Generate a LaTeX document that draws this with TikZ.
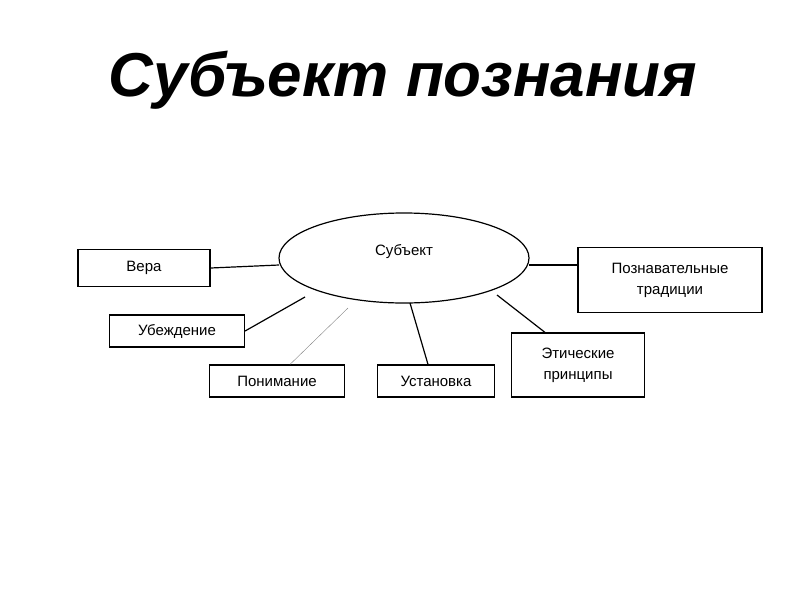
\documentclass[tikz,border=0pt]{standalone}
\usepackage{fontspec}
\setmainfont{Liberation Sans}
\usetikzlibrary{shapes.geometric}
\begin{document}
\begin{tikzpicture}[x=1pt,y=-1pt,
 bx/.style={draw,line width=1.2pt,inner sep=0pt,font=\fontsize{15}{18}\selectfont,align=center},
 ln/.style={line width=1.2pt}]
\useasboundingbox (0,0) rectangle (800,600);
\node (t) at (403,80) {\fontsize{62}{70}\selectfont\bfseries\itshape Субъект познания};
\node[draw,line width=1.2pt,ellipse,minimum width=250pt,minimum height=90pt,font=\fontsize{15}{18}\selectfont,text depth=16pt] (s) at (404,258) {Субъект};
\node[bx,minimum width=132pt,minimum height=37pt] (v) at (144,268) {Вера};
\node[bx,minimum width=135pt,minimum height=32pt] (u) at (177,331) {Убеждение};
\node[bx,minimum width=135pt,minimum height=32pt] (p) at (277,381) {Понимание};
\node[bx,minimum width=117pt,minimum height=32pt] (y) at (436,381) {Установка};
\node[bx,minimum width=133pt,minimum height=64pt] (e) at (578,365) {Этические\\[3pt]принципы};
\node[bx,minimum width=184pt,minimum height=65pt] (k) at (670,280) {Познавательные\\[3pt]традиции};
\coordinate (s1) at (279,265);
\coordinate (s2) at (305,297);
\coordinate (s3) at (348,308);
\coordinate (s4) at (410,303);
\coordinate (s5) at (497,295);
\coordinate (s6) at (529,265);
\draw[ln] (v.east) -- (s1);
\draw[ln] (u.east) -- (s2);
\draw[gray] (p.north)++(13,0) coordinate (pp) -- (s3);
\draw[ln] (y.north)++(-8,0) coordinate (yy) -- (s4);
\draw[ln] (e.north)++(-33,0) coordinate (ee) -- (s5);
\draw[ln] (k.west|-s6) -- (s6);
\end{tikzpicture}
\end{document}
